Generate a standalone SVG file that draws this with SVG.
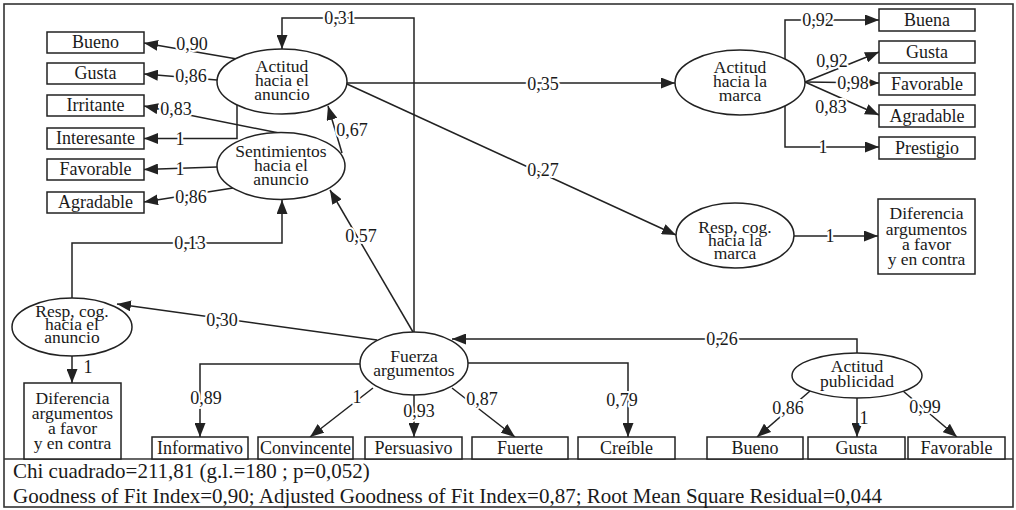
<svg xmlns="http://www.w3.org/2000/svg" width="1016" height="510" viewBox="0 0 1016 510" font-family="'Liberation Serif', 'Times New Roman', serif">
<style>
  text { fill: #1a1a1a; }
  .box { fill: #fff; stroke: #222; stroke-width: 1.5; }
  .ell { fill: #fff; stroke: #222; stroke-width: 1.5; }
  .bt { font-size: 18px; text-anchor: middle; }
  .et { font-size: 17.5px; text-anchor: middle; }
  .ln { fill: none; stroke: #222; stroke-width: 1.5; }
  .arr { marker-end: url(#ah); }
  .lbl { font-size: 18px; text-anchor: middle; stroke: #fff; stroke-width: 4; paint-order: stroke; stroke-linejoin: round; }
  .foot { font-size: 21px; }
</style>
<defs>
  <marker id="ah" markerUnits="userSpaceOnUse" markerWidth="14" markerHeight="11" refX="14" refY="5.5" orient="auto">
    <path d="M0,0 L14,5.5 L0,11 z" fill="#222"/>
  </marker>
</defs>
<rect x="4" y="4" width="1009" height="503" fill="#fff" stroke="#333" stroke-width="1.6"/>
<path d="M4,459 H1013" stroke="#333" stroke-width="1.5" fill="none"/>

<g id="connectors">
  <path class="ln arr" d="M414,332 V18 H282 V49"/>
  <path class="ln arr" d="M237,59 L144,43"/>
  <path class="ln arr" d="M217,80 L144,74"/>
  <path class="ln arr" d="M279,133 L144,106"/>
  <path class="ln arr" d="M237,105 V138.5 H144"/>
  <path class="ln arr" d="M217,167 L144,169.5"/>
  <path class="ln arr" d="M233,188 L144,202"/>
  <path class="ln arr" d="M342,153 L328,106"/>
  <path class="ln arr" d="M413,332 L330,190"/>
  <path class="ln arr" d="M72,298 V243 H282 V200"/>
  <path class="ln arr" d="M377,340 L117,304"/>
  <path class="ln arr" d="M72,356 V383"/>
  <path class="ln arr" d="M360,364 H200 V437"/>
  <path class="ln arr" d="M373,388 L310,437"/>
  <path class="ln arr" d="M414,395 V437"/>
  <path class="ln arr" d="M452,388 L515,437"/>
  <path class="ln arr" d="M468,363 H628 V437"/>
  <path class="ln arr" d="M857,353 V339 H452"/>
  <path class="ln arr" d="M810,391 L757,437"/>
  <path class="ln arr" d="M857,398 V437"/>
  <path class="ln arr" d="M903,391 L957,437"/>
  <path class="ln arr" d="M347,83 H675"/>
  <path class="ln arr" d="M347,84 L676,235"/>
  <path class="ln arr" d="M794,236 H878"/>
  <path class="ln arr" d="M785,59 V20 H879"/>
  <path class="ln arr" d="M785,106 V147 H879"/>
  <path class="ln arr" d="M805,82 L879,52"/>
  <path class="ln arr" d="M805,82 L879,83"/>
  <path class="ln arr" d="M805,82 L879,115"/>

  <text class="lbl" x="340" y="24">0,31</text>
  <text class="lbl" x="192" y="50">0,90</text>
  <text class="lbl" x="191" y="82">0,86</text>
  <text class="lbl" x="176" y="115">0,83</text>
  <text class="lbl" x="180" y="145">1</text>
  <text class="lbl" x="180" y="175">1</text>
  <text class="lbl" x="191" y="203">0,86</text>
  <text class="lbl" x="352" y="136">0,67</text>
  <text class="lbl" x="361" y="242">0,57</text>
  <text class="lbl" x="190" y="249">0,13</text>
  <text class="lbl" x="222" y="326">0,30</text>
  <text class="lbl" x="88" y="373">1</text>
  <text class="lbl" x="206" y="404">0,89</text>
  <text class="lbl" x="357" y="403">1</text>
  <text class="lbl" x="419" y="417">0,93</text>
  <text class="lbl" x="482" y="405">0,87</text>
  <text class="lbl" x="622" y="406">0,79</text>
  <text class="lbl" x="722" y="345">0,26</text>
  <text class="lbl" x="788" y="414">0,86</text>
  <text class="lbl" x="864" y="424">1</text>
  <text class="lbl" x="925" y="413">0,99</text>
  <text class="lbl" x="543" y="90">0,35</text>
  <text class="lbl" x="543" y="176">0,27</text>
  <text class="lbl" x="830" y="242">1</text>
  <text class="lbl" x="818" y="26">0,92</text>
  <text class="lbl" x="823" y="153">1</text>
  <text class="lbl" x="832" y="67">0,92</text>
  <text class="lbl" x="853" y="89">0,98</text>
  <text class="lbl" x="831" y="113">0,83</text>
</g>

<g id="n-bueno-anuncio"><rect class="box" x="47" y="32" width="97" height="21"/><text class="bt" x="95.5" y="48">Bueno</text></g>
<g id="n-gusta-anuncio"><rect class="box" x="47" y="63" width="97" height="21"/><text class="bt" x="95.5" y="79">Gusta</text></g>
<g id="n-irritante"><rect class="box" x="47" y="95" width="97" height="21"/><text class="bt" x="95.5" y="111">Irritante</text></g>
<g id="n-interesante"><rect class="box" x="47" y="128" width="97" height="21"/><text class="bt" x="95.5" y="144">Interesante</text></g>
<g id="n-favorable-anuncio"><rect class="box" x="47" y="159" width="97" height="21"/><text class="bt" x="95.5" y="175">Favorable</text></g>
<g id="n-agradable-anuncio"><rect class="box" x="47" y="192" width="97" height="21"/><text class="bt" x="95.5" y="208">Agradable</text></g>

<g id="e-actitud-anuncio"><ellipse class="ell" cx="282" cy="81.5" rx="65" ry="32.5"/>
  <text class="et" x="282" y="72">Actitud</text><text class="et" x="282" y="86">hacia el</text><text class="et" x="282" y="100">anuncio</text></g>
<g id="e-sentimientos"><ellipse class="ell" cx="281" cy="166" rx="64" ry="33.5"/>
  <text class="et" x="281" y="157">Sentimientos</text><text class="et" x="281" y="171">hacia el</text><text class="et" x="281" y="185">anuncio</text></g>
<g id="e-actitud-marca"><ellipse class="ell" cx="740" cy="82.5" rx="65" ry="32.5"/>
  <text class="et" x="740" y="73">Actitud</text><text class="et" x="740" y="87">hacia la</text><text class="et" x="740" y="101">marca</text></g>

<g id="n-buena"><rect class="box" x="879" y="9" width="96" height="22"/><text class="bt" x="927" y="25.5">Buena</text></g>
<g id="n-gusta-marca"><rect class="box" x="879" y="41" width="96" height="22"/><text class="bt" x="927" y="57.5">Gusta</text></g>
<g id="n-favorable-marca"><rect class="box" x="879" y="73" width="96" height="22"/><text class="bt" x="927" y="89.5">Favorable</text></g>
<g id="n-agradable-marca"><rect class="box" x="879" y="105" width="96" height="22"/><text class="bt" x="927" y="121.5">Agradable</text></g>
<g id="n-prestigio"><rect class="box" x="879" y="137" width="96" height="22"/><text class="bt" x="927" y="153.5">Prestigio</text></g>

<g id="e-resp-marca"><ellipse class="ell" cx="735" cy="235.5" rx="59" ry="32.5"/>
  <text class="et" x="735" y="233">Resp, cog.</text><text class="et" x="735" y="246">hacia la</text><text class="et" x="735" y="259">marca</text></g>
<g id="n-dif-marca"><rect class="box" x="878" y="199" width="97" height="75"/>
  <text class="et" x="926.5" y="219">Diferencia</text><text class="et" x="926.5" y="235">argumentos</text><text class="et" x="926.5" y="250">a favor</text><text class="et" x="926.5" y="265">y en contra</text></g>

<g id="e-resp-anuncio"><ellipse class="ell" cx="72" cy="327" rx="60" ry="29"/>
  <text class="et" x="72" y="317">Resp, cog.</text><text class="et" x="72" y="330">hacia el</text><text class="et" x="72" y="343">anuncio</text></g>
<g id="n-dif-anuncio"><rect class="box" x="24" y="383" width="97" height="76"/>
  <text class="et" x="72.5" y="404">Diferencia</text><text class="et" x="72.5" y="419">argumentos</text><text class="et" x="72.5" y="434">a favor</text><text class="et" x="72.5" y="449">y en contra</text></g>

<g id="e-fuerza"><ellipse class="ell" cx="414" cy="363.5" rx="54" ry="31.5"/>
  <text class="et" x="414" y="362">Fuerza</text><text class="et" x="414" y="376">argumentos</text></g>
<g id="e-actitud-publicidad"><ellipse class="ell" cx="857" cy="375.5" rx="65" ry="22.5"/>
  <text class="et" x="857" y="372">Actitud</text><text class="et" x="857" y="387">publicidad</text></g>

<g id="n-informativo"><rect class="box" x="152" y="437" width="96" height="22"/><text class="bt" x="200" y="453.5">Informativo</text></g>
<g id="n-convincente"><rect class="box" x="258" y="437" width="95" height="22"/><text class="bt" x="305.5" y="453.5">Convincente</text></g>
<g id="n-persuasivo"><rect class="box" x="365" y="437" width="97" height="22"/><text class="bt" x="413.5" y="453.5">Persuasivo</text></g>
<g id="n-fuerte"><rect class="box" x="472" y="437" width="96" height="22"/><text class="bt" x="520" y="453.5">Fuerte</text></g>
<g id="n-creible"><rect class="box" x="578" y="437" width="97" height="22"/><text class="bt" x="626.5" y="453.5">Creíble</text></g>
<g id="n-bueno-pub"><rect class="box" x="707" y="437" width="96" height="22"/><text class="bt" x="755" y="453.5">Bueno</text></g>
<g id="n-gusta-pub"><rect class="box" x="808" y="437" width="97" height="22"/><text class="bt" x="856.5" y="453.5">Gusta</text></g>
<g id="n-favorable-pub"><rect class="box" x="908" y="437" width="97" height="22"/><text class="bt" x="956.5" y="453.5">Favorable</text></g>

<g id="footer">
  <text class="foot" x="13" y="478">Chi cuadrado=211,81 (g.l.=180 ; p=0,052)</text>
  <text class="foot" x="13" y="503">Goodness of Fit Index=0,90; Adjusted Goodness of Fit Index=0,87; Root Mean Square Residual=0,044</text>
</g>
</svg>
